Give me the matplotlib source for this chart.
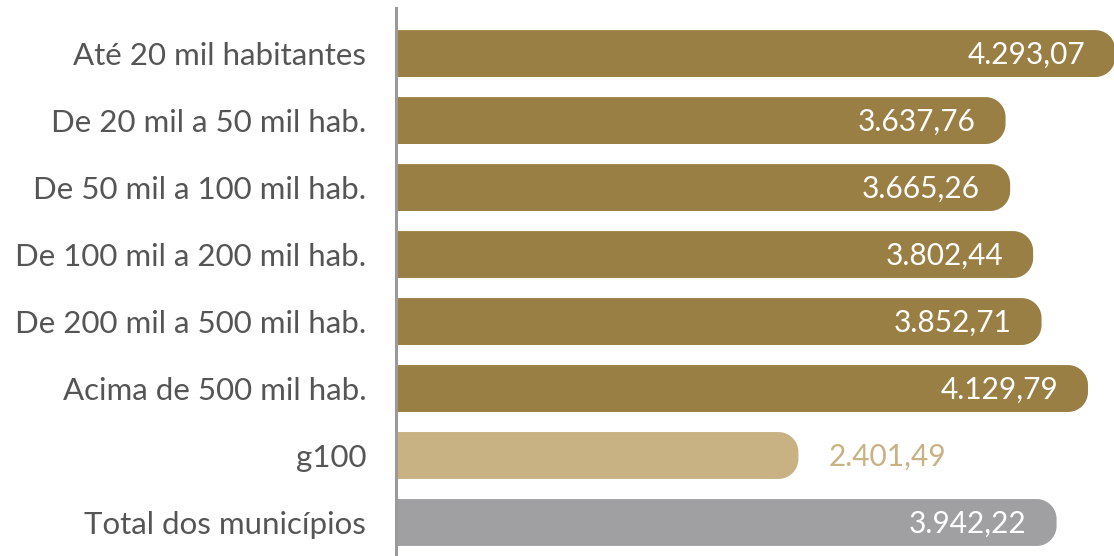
import numpy as np
import matplotlib
matplotlib.use("Agg")
import matplotlib.pyplot as plt
from matplotlib.path import Path
from matplotlib.patches import PathPatch

categories = ["Até 20 mil habitantes", "De 20 mil a 50 mil hab.", "De 50 mil a 100 mil hab.",
              "De 100 mil a 200 mil hab.", "De 200 mil a 500 mil hab.", "Acima de 500 mil hab.",
              "g100", "Total dos municípios"]
values = [4293.07, 3637.76, 3665.26, 3802.44, 3852.71, 4129.79, 2401.49, 3942.22]
bar_colors = ["#9a7f45"] * 6 + ["#c8b283", "#a0a0a2"]
label_inside = [True, True, True, True, True, True, False, True]

plt.rcParams['font.family'] = ['Lato', 'DejaVu Sans']

W, H = 1114, 556
fig = plt.figure(figsize=(W / 100, H / 100), dpi=100)
ax = fig.add_axes([396 / W, 0, 1 - 396 / W, 1 - 8 / H])
xmax = 4285
ax.set_xlim(0, xmax)
ax.set_ylim(7.5, -0.68)

bar_h = 0.70
px_per_x = (W - 396) / xmax
px_per_y = (H - 8) / (7.5 + 0.68)
r_px = 20
rx = r_px / px_per_x
ry = r_px / px_per_y


def rounded_bar(y, v, color):
    y0, y1 = y - bar_h / 2, y + bar_h / 2
    t1 = np.linspace(-np.pi / 2, 0, 20)
    t2 = np.linspace(0, np.pi / 2, 20)
    pts = [(0, y0)]
    pts += [(v - rx + rx * np.cos(t), y0 + ry + ry * np.sin(t)) for t in t1]
    pts += [(v - rx + rx * np.cos(t), y1 - ry + ry * np.sin(t)) for t in t2]
    pts += [(0, y1), (0, y0)]
    codes = [Path.MOVETO] + [Path.LINETO] * (len(pts) - 2) + [Path.CLOSEPOLY]
    ax.add_patch(PathPatch(Path(pts, codes), facecolor=color, edgecolor='none'))


def fmt(v):
    s = f"{v:,.2f}"
    return s.replace(",", "X").replace(".", ",").replace("X", ".")


for i, (v, c, inside) in enumerate(zip(values, bar_colors, label_inside)):
    rounded_bar(i, v, c)
    off = 30 / px_per_x
    if inside:
        ax.text(v - off, i + 0.02, fmt(v), ha='right', va='center', color='white', fontsize=21.5)
    else:
        ax.text(v + off, i + 0.02, fmt(v), ha='left', va='center', color=c, fontsize=21.5)

ax.set_yticks(range(len(categories)))
ax.set_yticklabels(categories, fontsize=22.5, color='#555555')
ax.tick_params(axis='y', length=0, pad=21.5)
ax.set_xticks([])
for s in ['top', 'right', 'bottom']:
    ax.spines[s].set_visible(False)
ax.spines['left'].set_color('#9a9a9a')
ax.spines['left'].set_linewidth(2.2)

fig.savefig("out.png", dpi=100)
